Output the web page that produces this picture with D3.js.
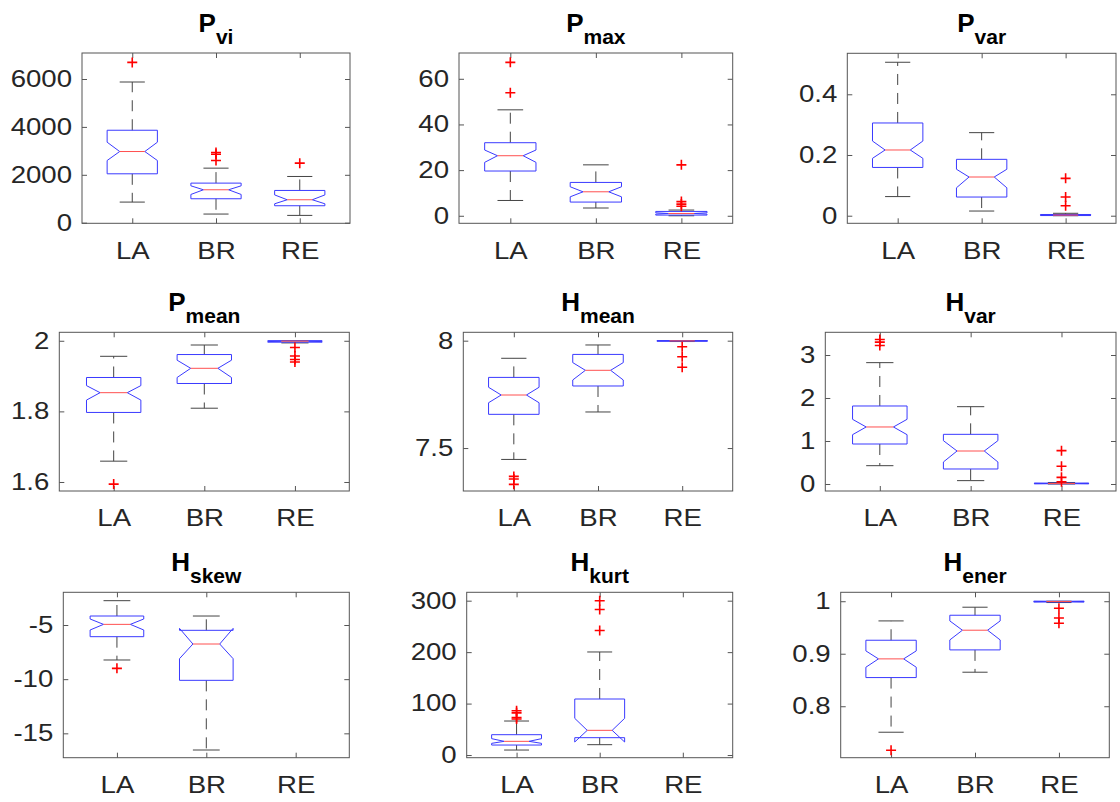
<!DOCTYPE html>
<html>
<head>
<meta charset="utf-8">
<script src="https://cdn.jsdelivr.net/npm/d3@7"></script>
<style>
  body { margin: 0; background: #fff; }
  text { font-family: 'Liberation Sans', Arial, Helvetica, sans-serif; }
</style>
</head>
<body>
<div id="chart"></div>
<script>
'use strict';

var categories = ['LA', 'BR', 'RE'];
var titleMain = ['P', 'P', 'P', 'P', 'H', 'H', 'H', 'H', 'H'];
var titleSub = ['vi', 'max', 'var', 'mean', 'mean', 'var', 'skew', 'kurt', 'ener'];

var yTicks = [
  [0, 2000, 4000, 6000],
  [0, 20, 40, 60],
  [0, 0.2, 0.4],
  [1.6, 1.8, 2],
  [7.5, 8],
  [0, 1, 2, 3],
  [-15, -10, -5],
  [0, 100, 200, 300],
  [0.8, 0.9, 1]
];

var yDomains = [
  [-25, 7086],
  [-3.3, 71.3],
  [-0.025, 0.535],
  [1.5745, 2.024],
  [7.30, 8.039],
  [-0.163, 3.528],
  [-17.25, -1.98],
  [-5.2, 316.3],
  [0.702, 1.017]
];

// box statistics, one row per panel, columns LA / BR / RE (null = no data)
var whiskerLo = [
  [861, 361, 305],
  [6.7, 3.4, 0.0],
  [0.063, 0.0154, 0],
  [1.659, 1.809, 1.994],
  [7.447, 7.668, 7.996],
  [0.426, 0.078, 0],
  [-8.23, -16.54, null],
  [9.7, 20.1, null],
  [0.7505, 0.8648, 0.9975]
];
var q1 = [
  [2042, 1000, 708],
  [19.6, 6.0, 0.3],
  [0.159, 0.0615, 0.0005],
  [1.797, 1.879, 1.996],
  [7.657, 7.789, 7.998],
  [0.93, 0.349, 0.005],
  [-6.077, -10.108, null],
  [19.4, 33.7, null],
  [0.8546, 0.9073, 0.9985]
];
var notchLo = [
  [2597, 1180, 790],
  [23.4, 8.3, 0.7],
  [0.189, 0.092, 0.001],
  [1.832, 1.896, 1.9975],
  [7.711, 7.817, 7.9985],
  [1.147, 0.512, 0.008],
  [-5.46, -8.108, null],
  [22.7, 25.3, null],
  [0.8743, 0.9263, 0.999]
];
var median = [
  [2972, 1375, 958],
  [26.3, 10.5, 1.0],
  [0.2165, 0.1275, 0.002],
  [1.853, 1.922, 1.999],
  [7.747, 7.862, 7.999],
  [1.326, 0.767, 0.012],
  [-4.94, -6.754, null],
  [26.6, 48, null],
  [0.8902, 0.9448, 0.9995]
];
var notchHi = [
  [3361, 1540, 1160],
  [28.8, 12.7, 1.3],
  [0.246, 0.153, 0.003],
  [1.873, 1.945, 1.9995],
  [7.783, 7.898, 7.9995],
  [1.504, 1.008, 0.016],
  [-4.446, -5.31, null],
  [31.8, 71.3, null],
  [0.9054, 0.9625, 0.9998]
];
var q3 = [
  [3861, 1653, 1347],
  [32.0, 14.6, 1.9],
  [0.3055, 0.1857, 0.004],
  [1.896, 1.961, 2.0],
  [7.829, 7.936, 8.0],
  [1.814, 1.155, 0.02],
  [-4.169, -5.49, null],
  [39.5, 108.9, null],
  [0.9257, 0.9733, 1.0]
];
var whiskerHi = [
  [5875, 2278, 1930],
  [46.4, 22.3, 2.5],
  [0.5055, 0.2736, 0.008],
  [1.956, 1.988, 2.0],
  [7.918, 7.98, 8.0],
  [2.822, 1.798, 0.035],
  [-2.754, -4.17, null],
  [66.1, 200.3, null],
  [0.9625, 0.9886, 1.0]
];
var outliers = [
  [[6694], [2930, 2860, 2600], [2486]],
  [[67.2, 53.9], [], [22.3, 6.2, 5.1, 4.2]],
  [[], [], [0.123, 0.0615, 0.033]],
  [[1.594], [], [1.981, 1.957, 1.947, 1.94]],
  [[7.368, 7.356, 7.331], [], [7.972, 7.925, 7.876]],
  [[3.36, 3.30, 3.22], [], [0.775, 0.411, 0.155, 0.05]],
  [[-9.0], [], []],
  [[86, 82, 73, 70], [300, 283, 242], []],
  [[0.7162], [], [0.9867, 0.968, 0.958]]
];

// axes rectangles: left, top, right, bottom
var panels = [
  [82, 53, 350, 223.3],
  [459, 53, 732.7, 223.3],
  [847.3, 53.3, 1116, 223.3],
  [59.3, 332.3, 349.3, 491],
  [463.3, 332.3, 732.7, 491],
  [825.3, 332.3, 1116, 491],
  [63.3, 592.3, 349.3, 757.7],
  [466.7, 592.3, 732.7, 757.7],
  [840.7, 592.3, 1109.3, 757.7]
];

var fmt = function (v) { return String(+v.toFixed(6)); };

var svg = d3.select('#chart')
  .append('svg')
  .attr('width', 1120)
  .attr('height', 802);

// tick labels in the reference are drawn a little wider than the font
var stretch = 'scale(1.2,1)';

var styleAxis = function (a) {
  a.select('.domain').remove();
  a.selectAll('.tick line').attr('stroke', '#555');
  a.attr('font-size', 23).attr('font-family', null);
  a.selectAll('.tick text').attr('fill', '#262626');
};

panels.forEach(function (p, i) {
  var x = d3.scaleLinear().domain([0.4, 3.6]).range([p[0], p[2]]);
  var y = d3.scaleLinear().domain(yDomains[i]).range([p[3], p[1]]);
  var g = svg.append('g');

  g.append('g')
    .attr('transform', 'translate(' + p[0] + ',0)')
    .call(d3.axisLeft(y).tickValues(yTicks[i]).tickFormat(fmt).tickSize(-5))
    .call(styleAxis)
    .selectAll('.tick text')
    .attr('x', 0)
    .attr('transform', 'translate(-10,0) ' + stretch);
  g.append('g')
    .attr('transform', 'translate(' + p[2] + ',0)')
    .call(d3.axisRight(y).tickValues(yTicks[i]).tickFormat('').tickSize(-5))
    .call(styleAxis);
  g.append('g')
    .attr('transform', 'translate(0,' + p[3] + ')')
    .call(d3.axisBottom(x).tickValues([1, 2, 3]).tickFormat(function (d) { return categories[d - 1]; }).tickSize(-5).tickPadding(19))
    .call(styleAxis)
    .selectAll('.tick text')
    .attr('transform', stretch);
  g.append('g')
    .attr('transform', 'translate(0,' + p[1] + ')')
    .call(d3.axisTop(x).tickValues([1, 2, 3]).tickFormat('').tickSize(-5))
    .call(styleAxis);

  g.append('rect')
    .attr('x', p[0])
    .attr('y', p[1])
    .attr('width', p[2] - p[0])
    .attr('height', p[3] - p[1])
    .style('fill', 'none')
    .style('stroke', '#555')
    .style('stroke-width', 1);

  // title with subscript
  var t = g.append('text')
    .attr('x', (p[0] + p[2]) / 2)
    .attr('y', p[1] - 21)
    .attr('text-anchor', 'middle')
    .style('font-weight', 'bold')
    .style('fill', '#000');
  t.append('tspan').style('font-size', '26px').text(titleMain[i]);
  t.append('tspan').style('font-size', '21px').attr('dy', 12).text(titleSub[i]);

  categories.forEach(function (c, j) {
    if (median[i][j] === null) return;
    var cx = j + 1;
    var xl = x(cx - 0.3), xr = x(cx + 0.3);
    var il = x(cx - 0.15), ir = x(cx + 0.15);

    // whiskers
    [[q3[i][j], whiskerHi[i][j]], [q1[i][j], whiskerLo[i][j]]].forEach(function (w) {
      g.append('line')
        .attr('x1', x(cx)).attr('x2', x(cx))
        .attr('y1', y(w[0])).attr('y2', y(w[1]))
        .style('stroke', '#444')
        .style('stroke-width', 1)
        .style('stroke-dasharray', '11,8');
      g.append('line')
        .attr('x1', x(cx - 0.15)).attr('x2', x(cx + 0.15))
        .attr('y1', y(w[1])).attr('y2', y(w[1]))
        .style('stroke', '#444')
        .style('stroke-width', 1);
    });

    // notched box
    var pts = [
      [xl, y(q1[i][j])], [xl, y(notchLo[i][j])], [il, y(median[i][j])],
      [xl, y(notchHi[i][j])], [xl, y(q3[i][j])], [xr, y(q3[i][j])],
      [xr, y(notchHi[i][j])], [ir, y(median[i][j])], [xr, y(notchLo[i][j])],
      [xr, y(q1[i][j])]
    ];
    g.append('path')
      .attr('d', d3.line()(pts) + 'Z')
      .style('fill', 'none')
      .style('stroke', '#3a3aff')
      .style('stroke-width', 1);

    g.append('line')
      .attr('x1', il).attr('x2', ir)
      .attr('y1', y(median[i][j])).attr('y2', y(median[i][j]))
      .style('stroke', '#ff5050')
      .style('stroke-width', 1);

    outliers[i][j].forEach(function (v) {
      var ox = x(cx), oy = y(v);
      g.append('path')
        .attr('d', 'M' + (ox - 5) + ',' + oy + 'H' + (ox + 5) + 'M' + ox + ',' + (oy - 5) + 'V' + (oy + 5))
        .style('stroke', '#ff0000')
        .style('stroke-width', 1.6)
        .style('fill', 'none');
    });
  });
});
</script>
</body>
</html>
